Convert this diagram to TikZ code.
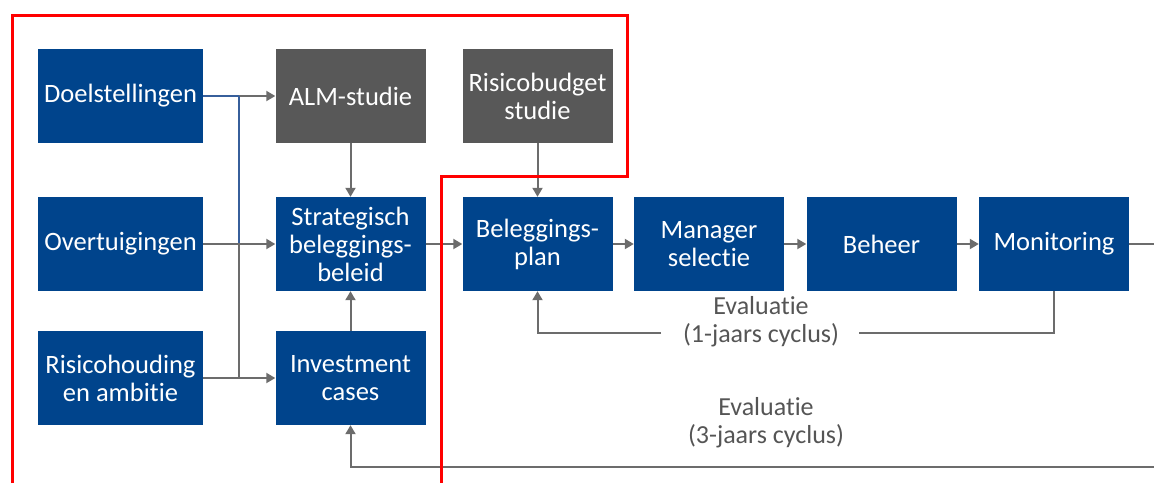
\documentclass[tikz,border=0pt]{standalone}
\usepackage{fontspec}
\setmainfont{Carlito}[Ligatures=NoCommon]
\usetikzlibrary{arrows.meta}
\definecolor{boxblue}{RGB}{0,68,140}
\definecolor{boxgray}{RGB}{88,88,88}
\definecolor{lngray}{RGB}{108,108,108}
\definecolor{lnblue}{RGB}{55,95,155}
\definecolor{txgray}{RGB}{85,85,85}
\tikzset{
  bbox/.style={fill=boxblue, text=white, minimum height=94pt, minimum width=150pt, align=center, inner sep=0pt, font=\fontsize{26.5}{28}\selectfont},
  gbox/.style={bbox, fill=boxgray},
  ln/.style={draw=lngray, line width=2pt},
  blln/.style={draw=lnblue, line width=2pt},
  arr/.style={ln, -{Triangle[length=9pt,width=10pt]}},
  evtext/.style={text=txgray, align=center, font=\fontsize{26}{28}\selectfont},
  redline/.style={draw=red, line width=3pt}
}
\begin{document}
\begin{tikzpicture}[x=1pt,y=-1pt]
\useasboundingbox (0,0) rectangle (1154,483);
% boxes
\node[bbox, minimum width=165pt] (doel) at (120.5,96) {Doelstellingen};
\node[gbox] (alm) at (350.5,96) {ALM-studie};
\node[gbox] (rb) at (537.5,96) {Risicobudget\\studie};
\node[bbox, minimum width=165pt] (ov) at (120.5,244) {Overtuigingen};
\node[bbox] (sb) at (350.5,244) {Strategisch\\beleggings-\\beleid};
\node[bbox] (bp) at (537.5,244) {Beleggings-\\plan};
\node[bbox] (ms) at (709,244) {Manager\\selectie};
\node[bbox] (bh) at (881.5,244) {Beheer};
\node[bbox] (mon) at (1054,244) {Monitoring};
\node[bbox, minimum width=165pt] (ri) at (120.5,378) {Risicohouding\\en ambitie};
\node[bbox] (ic) at (350.5,378) {Investment\\cases};
% evaluation labels
\node[evtext] (ev1) at (761,322) {Evaluatie\\(1-jaars cyclus)};
\node[evtext] (ev3) at (766,423) {Evaluatie\\(3-jaars cyclus)};
% coordinates
\coordinate (j1) at (239,96);
\coordinate (j2) at (239,244);
\coordinate (j3) at (239,378);
\coordinate (e1r) at (859,333);
\coordinate (e1l) at (661,333);
\coordinate (e3r) at (1154,467);
\coordinate (monout) at (1154,244);
% left connectors
\draw[blln] (doel.east) -- (j1);
\draw[arr] (j1) -- (alm.west);
\draw[ln] (j2) -- (j3);
\draw[blln] (j1) -- (j2);
\draw[arr] (ov.east) -- (sb.west);
\draw[arr] (ri.east) -- (ic.west);
\draw[arr] (alm.south) -- (sb.north);
\draw[arr] (ic.north) -- (sb.south);
\draw[arr] (rb.south) -- (bp.north);
% main chain
\draw[arr] (sb.east) -- (bp.west);
\draw[arr] (bp.east) -- (ms.west);
\draw[arr] (ms.east) -- (bh.west);
\draw[arr] (bh.east) -- (mon.west);
\draw[ln] (mon.east) -- (monout);
% evaluation loops
\draw[ln] (mon.south) |- (e1r);
\draw[arr] (e1l) -| (bp.south);
\draw[arr] (e3r) -| (ic.south);
% red outline
\draw[redline] (12,483) -- (12,15) -- (627,15) -- (627,176) -- (441,176) -- (441,483);
\end{tikzpicture}
\end{document}
